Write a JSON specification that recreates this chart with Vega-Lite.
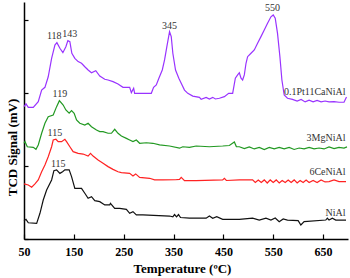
{
  "$schema": "https://vega.github.io/schema/vega-lite/v6.json",
  "width": 324,
  "height": 237,
  "autosize": "none",
  "padding": {"left": 24, "top": 2, "right": 2, "bottom": 39},
  "background": "white",
  "config": {
    "view": {"stroke": null},
    "font": "Liberation Serif"
  },
  "datasets": {
    "curves": [
      {"s":"P","t":50,"v":7.26},{"s":"P","t":54,"v":7.41},{"s":"P","t":58.6,"v":7.22},{"s":"P","t":68.6,"v":7.22},{"s":"P","t":78.6,"v":7.53},{"s":"P","t":85.4,"v":8.17},{"s":"P","t":92,"v":8.32},{"s":"P","t":98.6,"v":8.9},{"s":"P","t":105.4,"v":9.91},{"s":"P","t":112,"v":10.64},{"s":"P","t":116,"v":10.77},{"s":"P","t":122,"v":10.46},{"s":"P","t":128,"v":10.22},{"s":"P","t":134,"v":10.55},{"s":"P","t":138,"v":10.88},{"s":"P","t":142,"v":10.82},{"s":"P","t":146,"v":10.19},{"s":"P","t":152,"v":9.91},{"s":"P","t":158.6,"v":9.73},{"s":"P","t":165.4,"v":9.64},{"s":"P","t":172,"v":9.45},{"s":"P","t":178.6,"v":9.27},{"s":"P","t":185.4,"v":9.12},{"s":"P","t":194,"v":9.23},{"s":"P","t":202,"v":8.94},{"s":"P","t":212,"v":8.76},{"s":"P","t":218.6,"v":8.72},{"s":"P","t":228.6,"v":8.63},{"s":"P","t":238.6,"v":8.5},{"s":"P","t":248.6,"v":8.32},{"s":"P","t":262,"v":8.32},{"s":"P","t":265.4,"v":8.03},{"s":"P","t":270,"v":8.27},{"s":"P","t":272,"v":7.99},{"s":"P","t":305.4,"v":7.99},{"s":"P","t":310,"v":8.32},{"s":"P","t":315.4,"v":8.45},{"s":"P","t":320.6,"v":8.82},{"s":"P","t":327.4,"v":9.27},{"s":"P","t":332,"v":9.82},{"s":"P","t":336.6,"v":10.55},{"s":"P","t":342,"v":11.37},{"s":"P","t":345.4,"v":11.1},{"s":"P","t":348.6,"v":10.19},{"s":"P","t":354,"v":9.27},{"s":"P","t":360.6,"v":8.82},{"s":"P","t":365.4,"v":8.54},{"s":"P","t":372,"v":8.17},{"s":"P","t":378.6,"v":7.99},{"s":"P","t":388.6,"v":7.84},{"s":"P","t":402,"v":7.77},{"s":"P","t":405.4,"v":7.66},{"s":"P","t":415.4,"v":7.77},{"s":"P","t":422,"v":7.68},{"s":"P","t":428.6,"v":7.77},{"s":"P","t":434,"v":7.68},{"s":"P","t":442,"v":7.72},{"s":"P","t":452,"v":7.81},{"s":"P","t":460.6,"v":7.99},{"s":"P","t":468.6,"v":7.99},{"s":"P","t":474,"v":8.82},{"s":"P","t":478.6,"v":9.0},{"s":"P","t":482,"v":9.12},{"s":"P","t":485.4,"v":8.82},{"s":"P","t":488.6,"v":8.72},{"s":"P","t":492,"v":9.0},{"s":"P","t":495.4,"v":9.64},{"s":"P","t":498.6,"v":10.0},{"s":"P","t":505.4,"v":10.19},{"s":"P","t":512,"v":10.37},{"s":"P","t":518.6,"v":10.74},{"s":"P","t":525.4,"v":11.1},{"s":"P","t":532,"v":11.46},{"s":"P","t":538.6,"v":11.83},{"s":"P","t":545.4,"v":12.19},{"s":"P","t":550,"v":12.29},{"s":"P","t":554,"v":12.11},{"s":"P","t":558.6,"v":11.28},{"s":"P","t":563.4,"v":10.0},{"s":"P","t":567.4,"v":8.72},{"s":"P","t":572,"v":7.9},{"s":"P","t":578.6,"v":7.72},{"s":"P","t":588.6,"v":7.66},{"s":"P","t":598,"v":7.57},{"s":"P","t":606,"v":7.65},{"s":"P","t":614,"v":7.52},{"s":"P","t":622,"v":7.62},{"s":"P","t":630,"v":7.52},{"s":"P","t":638,"v":7.6},{"s":"P","t":646,"v":7.52},{"s":"P","t":654,"v":7.57},{"s":"P","t":662,"v":7.52},{"s":"P","t":672,"v":7.54},{"s":"P","t":682,"v":7.5},{"s":"P","t":692,"v":7.5},{"s":"P","t":697,"v":7.79},

      {"s":"G","t":50,"v":5.25},{"s":"G","t":52,"v":5.34},{"s":"G","t":56.6,"v":5.06},{"s":"G","t":68.6,"v":5.03},{"s":"G","t":74,"v":4.92},{"s":"G","t":78.6,"v":5.16},{"s":"G","t":85.4,"v":5.8},{"s":"G","t":92,"v":6.35},{"s":"G","t":98.6,"v":6.71},{"s":"G","t":108.6,"v":6.8},{"s":"G","t":115.4,"v":7.26},{"s":"G","t":121,"v":7.59},{"s":"G","t":128.6,"v":7.35},{"s":"G","t":134,"v":7.08},{"s":"G","t":140.6,"v":6.9},{"s":"G","t":145.4,"v":7.04},{"s":"G","t":150.6,"v":6.9},{"s":"G","t":155.4,"v":6.53},{"s":"G","t":162,"v":6.35},{"s":"G","t":172,"v":6.25},{"s":"G","t":178.6,"v":6.35},{"s":"G","t":185.4,"v":6.16},{"s":"G","t":195.4,"v":5.98},{"s":"G","t":202,"v":5.89},{"s":"G","t":208.6,"v":5.89},{"s":"G","t":218.6,"v":5.8},{"s":"G","t":225.4,"v":5.8},{"s":"G","t":232,"v":6.02},{"s":"G","t":238.6,"v":5.8},{"s":"G","t":245.4,"v":5.65},{"s":"G","t":255.4,"v":5.52},{"s":"G","t":262,"v":5.43},{"s":"G","t":268.6,"v":5.34},{"s":"G","t":275.4,"v":5.43},{"s":"G","t":282,"v":5.25},{"s":"G","t":295.4,"v":5.28},{"s":"G","t":308.6,"v":5.25},{"s":"G","t":322,"v":5.16},{"s":"G","t":342,"v":5.1},{"s":"G","t":362,"v":4.98},{"s":"G","t":368.6,"v":5.06},{"s":"G","t":382,"v":5.03},{"s":"G","t":395.4,"v":5.1},{"s":"G","t":422,"v":5.06},{"s":"G","t":448.6,"v":5.1},{"s":"G","t":462,"v":5.13},{"s":"G","t":472,"v":5.32},{"s":"G","t":476,"v":5.07},{"s":"G","t":482,"v":5.06},{"s":"G","t":492,"v":4.96},{"s":"G","t":502,"v":5.05},{"s":"G","t":512,"v":4.94},{"s":"G","t":522,"v":5.02},{"s":"G","t":532,"v":4.91},{"s":"G","t":542,"v":5.02},{"s":"G","t":552,"v":4.94},{"s":"G","t":562,"v":5.02},{"s":"G","t":572,"v":4.94},{"s":"G","t":582,"v":5.02},{"s":"G","t":592,"v":4.91},{"s":"G","t":602,"v":4.99},{"s":"G","t":612,"v":4.94},{"s":"G","t":622,"v":5.02},{"s":"G","t":632,"v":4.94},{"s":"G","t":642,"v":4.99},{"s":"G","t":652,"v":4.94},{"s":"G","t":662,"v":5.05},{"s":"G","t":672,"v":4.96},{"s":"G","t":682,"v":5.02},{"s":"G","t":692,"v":4.99},{"s":"G","t":698,"v":5.05},

      {"s":"R","t":50,"v":3.02},{"s":"R","t":58.6,"v":2.96},{"s":"R","t":65.4,"v":2.84},{"s":"R","t":72,"v":3.02},{"s":"R","t":78.6,"v":3.24},{"s":"R","t":85.4,"v":3.69},{"s":"R","t":92,"v":4.06},{"s":"R","t":98.6,"v":4.51},{"s":"R","t":105.4,"v":5.06},{"s":"R","t":108.6,"v":5.43},{"s":"R","t":114,"v":5.47},{"s":"R","t":118.6,"v":5.34},{"s":"R","t":125.4,"v":5.34},{"s":"R","t":132,"v":5.47},{"s":"R","t":135.4,"v":5.34},{"s":"R","t":142,"v":5.06},{"s":"R","t":148.6,"v":4.79},{"s":"R","t":158.6,"v":4.7},{"s":"R","t":168.6,"v":4.66},{"s":"R","t":178.6,"v":4.55},{"s":"R","t":183.4,"v":4.7},{"s":"R","t":188.6,"v":4.55},{"s":"R","t":198.6,"v":4.33},{"s":"R","t":208.6,"v":4.15},{"s":"R","t":218.6,"v":3.97},{"s":"R","t":228.6,"v":3.82},{"s":"R","t":238.6,"v":3.69},{"s":"R","t":245.4,"v":3.64},{"s":"R","t":262,"v":3.6},{"s":"R","t":268.6,"v":3.46},{"s":"R","t":274,"v":3.57},{"s":"R","t":282,"v":3.38},{"s":"R","t":302,"v":3.33},{"s":"R","t":312,"v":3.24},{"s":"R","t":328.6,"v":3.24},{"s":"R","t":354,"v":3.25},{"s":"R","t":362,"v":3.27},{"s":"R","t":365.4,"v":3.38},{"s":"R","t":372,"v":3.2},{"s":"R","t":395.4,"v":3.2},{"s":"R","t":448.6,"v":3.24},{"s":"R","t":452,"v":3.33},{"s":"R","t":456,"v":3.21},{"s":"R","t":482,"v":3.24},{"s":"R","t":508.6,"v":3.24},{"s":"R","t":514,"v":3.1},{"s":"R","t":520,"v":3.24},{"s":"R","t":526,"v":3.1},{"s":"R","t":532,"v":3.24},{"s":"R","t":538,"v":3.07},{"s":"R","t":544,"v":3.24},{"s":"R","t":550,"v":3.1},{"s":"R","t":556,"v":3.24},{"s":"R","t":562,"v":3.07},{"s":"R","t":568,"v":3.21},{"s":"R","t":574,"v":3.1},{"s":"R","t":580,"v":3.24},{"s":"R","t":586,"v":3.1},{"s":"R","t":592,"v":3.24},{"s":"R","t":598,"v":3.07},{"s":"R","t":604,"v":3.21},{"s":"R","t":610,"v":3.1},{"s":"R","t":616,"v":3.24},{"s":"R","t":622,"v":3.1},{"s":"R","t":630,"v":3.21},{"s":"R","t":638,"v":3.1},{"s":"R","t":646,"v":3.24},{"s":"R","t":654,"v":3.13},{"s":"R","t":662,"v":3.15},{"s":"R","t":672,"v":3.24},{"s":"R","t":682,"v":3.15},{"s":"R","t":696,"v":3.15},

      {"s":"K","t":50,"v":1.0},{"s":"K","t":54,"v":1.08},{"s":"K","t":58.6,"v":0.89},{"s":"K","t":75.4,"v":0.86},{"s":"K","t":82,"v":1.41},{"s":"K","t":88.6,"v":2.14},{"s":"K","t":95.4,"v":2.69},{"s":"K","t":105.4,"v":3.24},{"s":"K","t":110,"v":3.75},{"s":"K","t":115.4,"v":3.79},{"s":"K","t":122,"v":3.6},{"s":"K","t":127.4,"v":3.69},{"s":"K","t":132,"v":3.79},{"s":"K","t":140.6,"v":3.79},{"s":"K","t":145.4,"v":3.42},{"s":"K","t":152,"v":2.78},{"s":"K","t":165.4,"v":2.78},{"s":"K","t":172,"v":2.51},{"s":"K","t":178.6,"v":2.23},{"s":"K","t":185.4,"v":2.32},{"s":"K","t":192,"v":2.1},{"s":"K","t":202,"v":2.05},{"s":"K","t":212,"v":1.87},{"s":"K","t":222,"v":1.87},{"s":"K","t":223.4,"v":1.96},{"s":"K","t":232,"v":1.68},{"s":"K","t":242,"v":1.68},{"s":"K","t":255.4,"v":1.63},{"s":"K","t":262,"v":1.41},{"s":"K","t":268.6,"v":1.5},{"s":"K","t":275.4,"v":1.32},{"s":"K","t":288.6,"v":1.32},{"s":"K","t":342,"v":1.26},{"s":"K","t":348.6,"v":1.22},{"s":"K","t":352,"v":1.34},{"s":"K","t":356,"v":1.21},{"s":"K","t":360,"v":1.34},{"s":"K","t":364,"v":1.18},{"s":"K","t":382,"v":1.14},{"s":"K","t":415.4,"v":1.14},{"s":"K","t":422,"v":1.26},{"s":"K","t":428.6,"v":1.14},{"s":"K","t":436.6,"v":1.22},{"s":"K","t":448.6,"v":1.08},{"s":"K","t":482,"v":1.08},{"s":"K","t":508.6,"v":1.14},{"s":"K","t":522,"v":1.04},{"s":"K","t":535.4,"v":1.14},{"s":"K","t":545.4,"v":1.04},{"s":"K","t":554,"v":1.15},{"s":"K","t":562,"v":0.95},{"s":"K","t":570,"v":1.1},{"s":"K","t":578.6,"v":1.04},{"s":"K","t":600,"v":1.01},{"s":"K","t":605.4,"v":0.77},{"s":"K","t":612,"v":0.95},{"s":"K","t":655.4,"v":1.04},{"s":"K","t":658.6,"v":1.14},{"s":"K","t":662,"v":1.04},{"s":"K","t":668.6,"v":1.14},{"s":"K","t":675.4,"v":1.04},{"s":"K","t":696,"v":1.04}
    ],
    "peaks": [
      {"t":110.6,"v":11.14,"label":"118"},
      {"t":142,"v":11.25,"label":"143"},
      {"t":342,"v":11.68,"label":"345"},
      {"t":548.6,"v":12.66,"label":"550"},
      {"t":122,"v":7.95,"label":"119"},
      {"t":112,"v":5.8,"label":"115"},
      {"t":118.6,"v":4.11,"label":"115"}
    ],
    "names": [
      {"t":695,"v":8.08,"label":"0.1Pt11CaNiAl"},
      {"t":695,"v":5.52,"label":"3MgNiAl"},
      {"t":695,"v":3.69,"label":"6CeNiAl"},
      {"t":695,"v":1.41,"label":"NiAl"}
    ]
  },
  "layer": [
    {
      "data": {"name": "curves"},
      "mark": {"type": "line", "strokeWidth": 1.2, "interpolate": "linear"},
      "encoding": {
        "x": {
          "field": "t", "type": "quantitative",
          "scale": {"domain": [50, 700], "nice": false, "zero": false},
          "axis": {
            "title": "Temperature (ºC)",
            "values": [50,75,100,125,150,175,200,225,250,275,300,325,350,375,400,425,450,475,500,525,550,575,600,625,650,675,700],
            "labelExpr": "(datum.value - 50) % 100 == 0 && datum.value < 700 ? datum.label : ''",
            "grid": false,
            "domainColor": "#000", "domainWidth": 1.5,
            "tickColor": "#000", "tickWidth": 1.2, "tickSize": -5,
            "labelPadding": 12,
            "labelFont": "Liberation Serif", "labelFontWeight": "bold", "labelFontSize": 12, "labelColor": "#000",
            "labelFlush": false, "labelOverlap": false,
            "titleFont": "Liberation Serif", "titleFontWeight": "bold", "titleFontSize": 13, "titleColor": "#000",
            "titlePadding": 5,
            "titleX": 158
          }
        },
        "y": {
          "field": "v", "type": "quantitative",
          "scale": {"domain": [0, 13], "nice": false},
          "axis": {
            "title": "TCD Signal (mV)",
            "values": [0,1,2,3,4,5,6,7,8,9,10,11,12,13],
            "labels": false,
            "grid": false,
            "domainColor": "#000", "domainWidth": 1.5,
            "tickColor": "#000", "tickWidth": 1.2, "tickSize": -4,
            "titleFont": "Liberation Serif", "titleFontWeight": "bold", "titleFontSize": 13, "titleColor": "#000",
            "titlePadding": 4,
            "titleAnchor": "middle",
            "titleY": 145
          }
        },
        "color": {
          "field": "s", "type": "nominal",
          "scale": {"domain": ["P","G","R","K"], "range": ["#9933ff","#229922","#ff2222","#111111"]},
          "legend": null
        },
        "detail": {"field": "s"}
      }
    },
    {
      "data": {"name": "peaks"},
      "mark": {"type": "text", "font": "Liberation Serif", "fontSize": 10, "color": "#333", "align": "center", "baseline": "middle"},
      "encoding": {
        "x": {"field": "t", "type": "quantitative"},
        "y": {"field": "v", "type": "quantitative"},
        "text": {"field": "label"}
      }
    },
    {
      "data": {"name": "names"},
      "mark": {"type": "text", "font": "Liberation Serif", "fontSize": 10, "color": "#333", "align": "right", "baseline": "middle"},
      "encoding": {
        "x": {"field": "t", "type": "quantitative"},
        "y": {"field": "v", "type": "quantitative"},
        "text": {"field": "label"}
      }
    }
  ]
}
